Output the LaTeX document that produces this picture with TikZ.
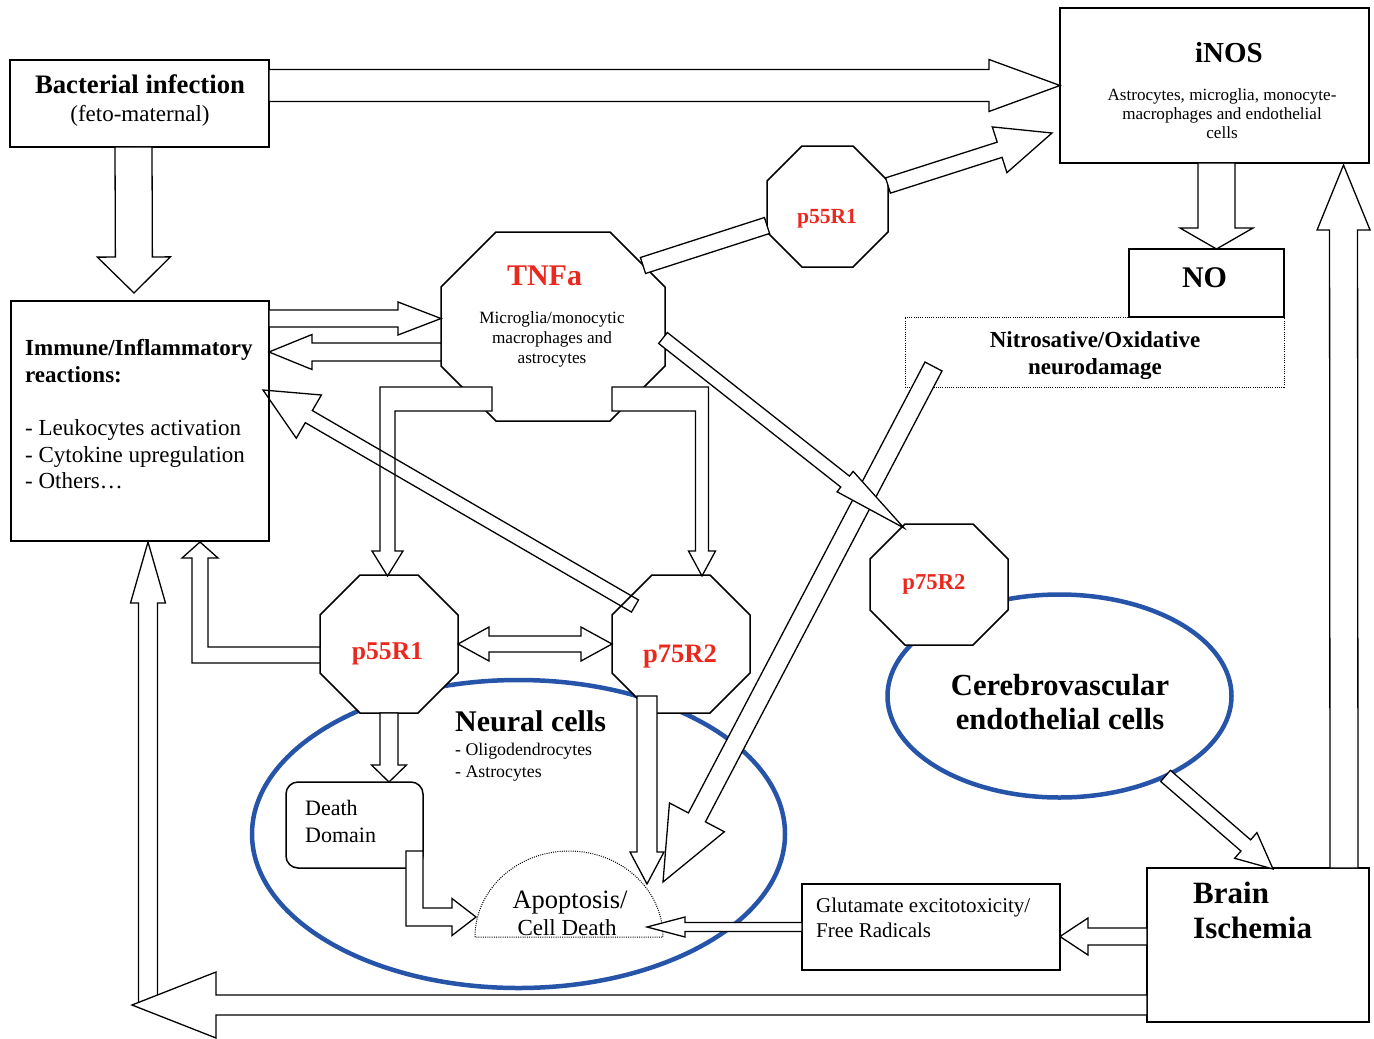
\documentclass[tikz,border=0pt]{standalone}
\usepackage{fontspec}
\setmainfont{Liberation Serif}
\usetikzlibrary{calc,shapes.geometric}

\definecolor{ringblue}{RGB}{38,84,168}
\definecolor{tnfred}{RGB}{235,40,30}

\newcommand\fs[2]{\fontsize{#1}{#2}\selectfont}

% straight block arrow: [opts]{from}{to}{shaft half width}{head half width}{head length}
\newcommand\blockarrow[6][]{%
  \coordinate (ba-s) at (#2);
  \coordinate (ba-e) at (#3);
  \coordinate (ba-h) at ($(ba-e)!#6!(ba-s)$);
  \draw[arrowbody,#1] ($(ba-s)!#4!90:(ba-e)$) -- ($(ba-h)!#4!-90:(ba-s)$)
    -- ($(ba-h)!#5!-90:(ba-s)$) -- (ba-e) -- ($(ba-h)!#5!90:(ba-s)$)
    -- ($(ba-h)!#4!90:(ba-s)$) -- ($(ba-s)!#4!-90:(ba-e)$) -- cycle;
}
% bent block arrow: [opts]{from}{corner}{to}{half width 1}{half width 2}{head half width}{head length}
\newcommand\elbowarrow[8][]{%
  \coordinate (ea-s) at (#2);
  \coordinate (ea-c) at (#3);
  \coordinate (ea-e) at (#4);
  \coordinate (ea-h) at ($(ea-e)!#8!(ea-c)$);
  \coordinate (ea-a) at ($(ea-c)!#5!-90:(ea-s)$);
  \coordinate (ea-b) at ($(ea-c)!#5!90:(ea-s)$);
  \coordinate (ea-p) at ($(ea-c)!#6!90:(ea-e)$);
  \coordinate (ea-q) at ($(ea-c)!#6!-90:(ea-e)$);
  \draw[arrowbody,#1] ($(ea-s)!#5!90:(ea-c)$) -- ($(ea-a)+(ea-p)-(ea-c)$)
    -- ($(ea-h)!#6!-90:(ea-c)$) -- ($(ea-h)!#7!-90:(ea-c)$) -- (ea-e)
    -- ($(ea-h)!#7!90:(ea-c)$) -- ($(ea-h)!#6!90:(ea-c)$)
    -- ($(ea-b)+(ea-q)-(ea-c)$) -- ($(ea-s)!#5!-90:(ea-c)$) -- cycle;
}
% two-headed block arrow: [opts]{a}{b}{shaft half width}{head half width}{head length}
\newcommand\dblarrow[6][]{%
  \coordinate (da-a) at (#2);
  \coordinate (da-b) at (#3);
  \coordinate (da-g) at ($(da-a)!#6!(da-b)$);
  \coordinate (da-k) at ($(da-b)!#6!(da-a)$);
  \draw[arrowbody,#1] (da-a) -- ($(da-g)!#5!90:(da-b)$) -- ($(da-g)!#4!90:(da-b)$)
    -- ($(da-k)!#4!-90:(da-a)$) -- ($(da-k)!#5!-90:(da-a)$) -- (da-b)
    -- ($(da-k)!#5!90:(da-a)$) -- ($(da-k)!#4!90:(da-a)$)
    -- ($(da-g)!#4!-90:(da-b)$) -- ($(da-g)!#5!-90:(da-b)$) -- cycle;
}
% chamfered outline round a slot node: {name}{chamfer}
\newcommand\octo[2]{%
  \draw[octline] ($(#1.north west)+(#2,0)$) -- ($(#1.north east)+(-#2,0)$)
    -- ($(#1.north east)+(0,#2)$) -- ($(#1.south east)+(0,-#2)$)
    -- ($(#1.south east)+(-#2,0)$) -- ($(#1.south west)+(#2,0)$)
    -- ($(#1.south west)+(0,-#2)$) -- ($(#1.north west)+(0,#2)$) -- cycle;
}

\tikzset{
  box/.style={draw, line width=1.5pt, fill=white, inner sep=0pt, outer sep=0pt},
  dotbox/.style={draw, line width=1pt, dash pattern=on 1pt off 1.2pt, inner sep=0pt, outer sep=0pt},
  dotline/.style={draw, line width=1pt, dash pattern=on 1pt off 1.2pt},
  octslot/.style={inner sep=0pt, outer sep=0pt},
  octline/.style={draw, line width=1.5pt, fill=white},
  ring/.style={ellipse, draw=ringblue, line width=4.5pt, inner sep=0pt, outer sep=0pt},
  arrowbody/.style={draw, line width=1.3pt, fill=white, line join=miter},
  txt/.style={inner sep=0pt},
  ptxt/.style={inner sep=0pt, text=tnfred, font=\fs{#1}{#1}\bfseries},
}

\begin{document}
\begin{tikzpicture}[x=1pt, y=-1pt]
  \useasboundingbox (0,0) rectangle (1374,1039);
  \fill[white] (0,0) rectangle (1374,1039);

  % receptor and TNF slots
  \node[octslot, minimum width=224pt, minimum height=189pt] (tnf) at (553,326.5) {};
  \node[octslot, minimum width=121pt, minimum height=121pt] (ptop) at (827.5,206.5) {};
  \node[octslot, minimum width=138pt, minimum height=138pt] (pleft) at (389,644) {};
  \node[octslot, minimum width=138pt, minimum height=138pt] (pright) at (681,644) {};
  \node[octslot, minimum width=138pt, minimum height=121pt] (pendo) at (939,584.5) {};

  % cell populations
  \node[ring, minimum width=533pt, minimum height=308pt] (neural) at (518.5,834) {};
  \node[ring, minimum width=344pt, minimum height=203pt] (endo) at (1059.5,696) {};

  \octo{tnf}{55} \octo{ptop}{35} \octo{pleft}{40} \octo{pright}{40} \octo{pendo}{35}

  % boxes
  \node[box, minimum width=259pt, minimum height=87pt] (bact) at (139.5,103.5) {};
  \node[box, minimum width=258pt, minimum height=240pt] (immune) at (140,421) {};
  \node[box, minimum width=309pt, minimum height=155pt] (inos) at (1214.5,85.5) {};
  \node[dotbox, minimum width=379pt, minimum height=70pt] (nitro) at (1094.5,352) {};
  \node[box, minimum width=155pt, minimum height=68pt] (no) at (1206.5,283) {};
  \node[box, rounded corners=12pt, minimum width=137pt, minimum height=86pt] (death) at (354.5,825) {};
  \node[box, minimum width=258pt, minimum height=86pt] (gluta) at (931,927) {};
  \node[box, minimum width=222pt, minimum height=154pt] (brain) at (1258,945) {};

  \coordinate (apop) at (569,937);
  \draw[dotline] ($(apop)+(-94,0)$) arc[start angle=180, end angle=0, x radius=94pt, y radius=86pt] -- cycle;

  % texts
  \node[txt, anchor=base, font=\fs{26.7}{28}\bfseries] (bact-t) at (140,93) {Bacterial infection};
  \node[txt, anchor=base, font=\fs{23}{28}] (bact-s) at (140,121) {(feto-maternal)};
  \node[txt, anchor=base, font=\fs{29}{30}\bfseries] (inos-t) at (1229,62) {iNOS};
  \node[txt, anchor=north, align=center, font=\fs{17.1}{19}] (inos-d) at (1222,88.3)
    {Astrocytes, microglia, monocyte-\\macrophages and endothelial\\cells};
  \node[ptxt=30, anchor=base] (tnf-t) at (544.5,285) {TNFa};
  \node[txt, anchor=north, align=center, font=\fs{17.2}{20}] (tnf-d) at (552,311)
    {Microglia/monocytic\\macrophages and\\astrocytes};
  \node[ptxt=21.6, anchor=base] (ptop-t) at (827,223) {p55R1};
  \node[ptxt=25.6, anchor=base] (pleft-t) at (387.5,659) {p55R1};
  \node[ptxt=26.6, anchor=base] (pright-t) at (680,662) {p75R2};
  \node[ptxt=22.7, anchor=base] (pendo-t) at (934,589) {p75R2};
  \node[txt, anchor=north west, align=left, font=\fs{23}{26.7}] (immune-t) at (25,339)
    {{\bfseries Immune/Inflammatory}\\{\bfseries reactions:}\\[26.7pt]- Leukocytes activation\\- Cytokine upregulation\\- Others…};
  \node[txt, anchor=base, font=\fs{30}{32}\bfseries] (no-t) at (1204.5,287) {NO};
  \node[txt, anchor=north, align=center, font=\fs{23}{27.5}\bfseries] (nitro-t) at (1095,331)
    {Nitrosative/Oxidative\\neurodamage};
  \node[txt, anchor=base west, font=\fs{30}{32}\bfseries] (neural-t) at (455,731) {Neural cells};
  \node[txt, anchor=north west, align=left, font=\fs{17.8}{22}] (neural-d) at (455,742.7)
    {- Oligodendrocytes\\- Astrocytes};
  \node[txt, anchor=north west, align=left, font=\fs{22}{27}] (death-t) at (305,800) {Death\\Domain};
  \node[txt, anchor=base, font=\fs{26.5}{28}] (apop-t) at (570,908) {Apoptosis/};
  \node[txt, anchor=base, font=\fs{23}{28}] (apop-s) at (567,935) {Cell Death};
  \node[txt, anchor=north, align=center, font=\fs{30.6}{34.5}\bfseries] (endo-t) at (1060,674)
    {Cerebrovascular\\endothelial cells};
  \node[txt, anchor=north west, align=left, font=\fs{21}{25}] (gluta-t) at (816,897.4)
    {Glutamate excitotoxicity/\\Free Radicals};
  \node[txt, anchor=north west, align=left, font=\fs{31}{35}\bfseries] (brain-t) at (1193,882)
    {Brain\\Ischemia};

  % infection and TNF
  \blockarrow{bact.east |- inos.west}{inos.west}{16pt}{26pt}{71pt}
  \blockarrow{[xshift=-6pt]bact.south}{$(immune.north)+(-6,-8)$}{18.5pt}{36.5pt}{36pt}
  \blockarrow{$(immune.east |- tnf.west)+(0,-8)$}{$(tnf.west)+(0,-8)$}{8.5pt}{16.5pt}{43pt}
  \blockarrow{$(tnf.west)+(0,25.5)$}{$(immune.east |- tnf.west)+(0,25.5)$}{9pt}{17.5pt}{43pt}
  \blockarrow{$(tnf.north east)+(-22,33.5)$}{$(ptop.west)+(0,19)$}{8.4pt}{8.4pt}{0pt}
  \blockarrow{$(ptop.east)+(0,-21)$}{$(inos.south west)+(-8,-30)$}{8pt}{24pt}{55pt}
  \blockarrow{$(inos.south)+(2,0)$}{$(no.north)+(10,0)$}{18.5pt}{36.5pt}{21pt}
  \blockarrow{$(brain.north east)+(-25,0)$}{$(inos.south east)+(-25.5,2)$}{14pt}{26.5pt}{65pt}

  % TNF to receptors
  \elbowarrow{$(tnf.south west)+(51,-22)$}{$(pleft.north |- tnf.south)+(-1.5,-22)$}{$(pleft.north)+(-1.5,1)$}{12pt}{7.5pt}{15.5pt}{25pt}
  \elbowarrow{$(tnf.south east)+(-53,-22)$}{$(pright.north |- tnf.south)+(21,-22)$}{$(pright.north)+(21,1)$}{12pt}{6.5pt}{13.5pt}{25pt}
  \blockarrow[fill=none]{$(pright.north west)+(23,31)$}{$(immune.east)+(-6,-31)$}{7pt}{25pt}{53pt}
  \blockarrow{$(nitro.south west)+(28.5,-20.5)$}{$(apop)+(94,-55)$}{9.6pt}{31pt}{73pt}
  \blockarrow{$(tnf.east)+(-2,11.5)$}{$(pendo.north west)+(34,4)$}{7pt}{13pt}{75pt}

  % receptor signalling
  \dblarrow{pleft.east}{pright.west}{8pt}{17pt}{31pt}
  \coordinate (pl-out) at ($(pleft.west)+(0,11)$);
  \coordinate (immune-in) at ($(immune.south west)+(189,1)$);
  \elbowarrow{pl-out}{immune-in |- pl-out}{immune-in}{8pt}{8pt}{18pt}{16pt}
  \blockarrow{pleft.south}{pleft.south |- death.north}{9pt}{17.5pt}{17pt}
  \elbowarrow{$(death.south east)+(-8.5,-17)$}{$(death.south east)+(-8.5,49)$}{$(apop)+(-93,-20)$}{8.5pt}{9pt}{18.5pt}{24pt}
  \blockarrow{$(pright.south west)+(35,-17)$}{$(apop)+(78,-53)$}{10pt}{17pt}{32pt}

  % ischemia
  \blockarrow{gluta.west}{$(apop)+(78,-10)$}{4.5pt}{10pt}{38pt}
  \blockarrow{$(brain.west)+(0,-8.5)$}{$(gluta.east)+(0,9.5)$}{8.5pt}{18.5pt}{28pt}
  \coordinate (turn) at ($(immune.south west)+(121,464)$);
  \blockarrow{$(turn)+(16,0)$}{$(immune.south west)+(137,1)$}{9.5pt}{17.5pt}{61pt}
  \blockarrow{$(brain.west)+(0,60)$}{turn}{10pt}{33pt}{84pt}
  \blockarrow{endo.-37}{$(brain.north west)+(126,1)$}{7.4pt}{17pt}{36pt}
\end{tikzpicture}
\end{document}
